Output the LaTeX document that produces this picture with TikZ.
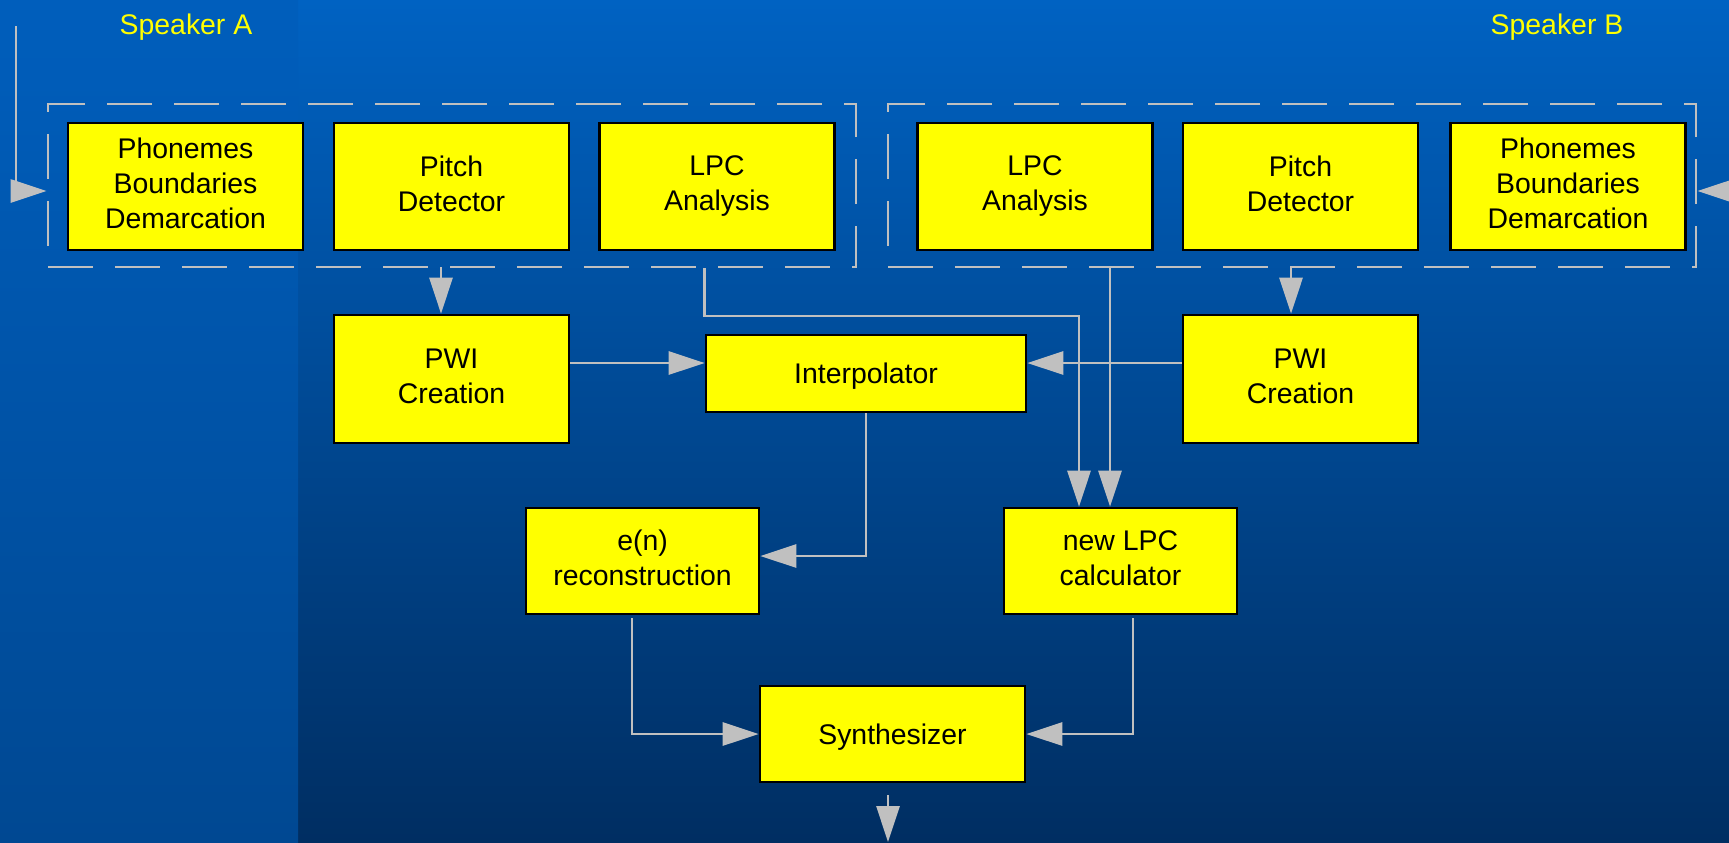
\documentclass[tikz,border=0pt]{standalone}
\usepackage{fontspec}
\setmainfont{Liberation Sans}
\usetikzlibrary{arrows.meta,positioning,calc}
\definecolor{bgTop}{RGB}{0,98,194}
\definecolor{bgBottom}{RGB}{0,46,98}
\definecolor{stripTop}{RGB}{0,94,188}
\definecolor{stripBottom}{RGB}{0,72,146}
\definecolor{wireGray}{RGB}{192,192,192}
\definecolor{boxYellow}{RGB}{255,255,0}
\newcommand{\diagfont}{\fontsize{14.2}{17.5}\selectfont}

\begin{document}
\begin{tikzpicture}[x=0.5pt,y=-0.5pt,
    block/.style={draw=black,fill=boxYellow,line width=1.3pt,align=center,
      inner sep=0pt,font=\diagfont,minimum width=117.5pt,minimum height=63.5pt,
      execute at begin node=\rule{0pt}{13pt},execute at end node=\rule[-3pt]{0pt}{3pt}},
    group/.style={draw=wireGray,line width=1.45pt,dash pattern=on 22.5pt off 11pt,
      inner sep=0pt,minimum width=404pt,minimum height=81.5pt},
    link/.style={draw=wireGray,line width=1.45pt,-{Triangle[length=18pt,width=11.5pt]}},
    spk/.style={text=boxYellow,font=\diagfont}]
  % ---- background
  \useasboundingbox (0,0) rectangle (1729,842);
  \shade[top color=bgTop,bottom color=bgBottom] (0,0) rectangle (1729,842);
  \shade[top color=stripTop,bottom color=stripBottom] (0,0) rectangle (298,842);
  \node[spk] (spkA) at (186,27) {Speaker A};
  \node[spk] (spkB) at (1557,27) {Speaker B};
  % ---- analysis groups
  \node[group] (grpA) at (452,185.5) {};
  \node[group] (grpB) at (1292,185.5) {};
  \node[block] (phA)  at (185.5,186.5)  {Phonemes\\Boundaries\\Demarcation};
  \node[block] (pitA) at (451.5,186.5)  {Pitch\\Detector};
  \node[block] (lpcA) at (717,186.5)    {LPC\\Analysis};
  \node[block] (lpcB) at (1035,186.5)   {LPC\\Analysis};
  \node[block] (pitB) at (1300.5,186.5) {Pitch\\Detector};
  \node[block] (phB)  at (1568,186.5)   {Phonemes\\Boundaries\\Demarcation};
  % ---- processing blocks
  \node[block,minimum height=64pt] (pwiA) at (451.5,379)  {PWI\\Creation};
  \node[block,minimum height=64pt] (pwiB) at (1300.5,379) {PWI\\Creation};
  \node[block,minimum width=160pt,minimum height=38.5pt] (interp) at (866,373.5) {Interpolator};
  \node[block,minimum width=116.5pt,minimum height=53pt] (enrec) at (642.5,561) {e(n)\\reconstruction};
  \node[block,minimum width=116.5pt,minimum height=53pt] (newlpc) at (1120.5,561) {new LPC\\calculator};
  \node[block,minimum width=132.5pt,minimum height=48pt] (synth) at (892.5,734) {Synthesizer};
  % ---- connectors
  \coordinate (inA) at (16,26);
  \coordinate (inB) at (1729,191);
  \coordinate (dropA) at (441,267);
  \coordinate (dropB) at (1291,267);
  \coordinate (lpcBdrop) at (1110,267);
  \coordinate (jA) at (1079,316);
  \coordinate (yI) at (0,363);
  \coordinate (outT) at (888,795);
  \coordinate (outB) at (888,842);
  \draw[link] (inA) |- ([yshift=-2.75pt]grpA.west);
  \draw[link] (inB) -- (grpB.east |- inB);
  \draw[link] (dropA) -- (dropA |- pwiA.north);
  \draw[link] (dropB) -- (dropB |- pwiB.north);
  \draw[link] (grpA.south -| interp.west) |- (jA) -- (jA |- newlpc.north);
  \draw[link] (lpcBdrop) -- (lpcBdrop |- newlpc.north);
  \draw[link] (pwiA.east |- yI) -- (interp.west |- yI);
  \draw[link] (pwiB.west |- yI) -- (interp.east |- yI);
  \draw[link] (interp.south) |- ([yshift=2.5pt]enrec.east);
  \draw[link] ([xshift=-5.25pt,yshift=-1.5pt]enrec.south) |- (synth.west);
  \draw[link] ([xshift=6.25pt,yshift=-1.5pt]newlpc.south) |- (synth.east);
  \draw[link] (outT) -- (outB);
\end{tikzpicture}
\end{document}
